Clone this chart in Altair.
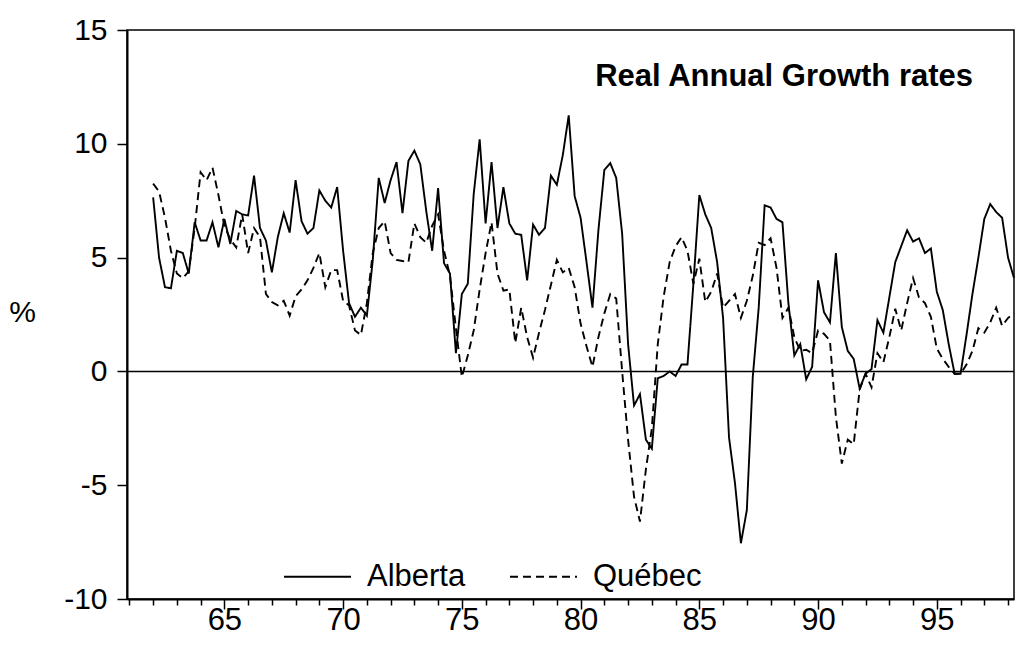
import altair as alt
import pandas as pd

FONT = "Liberation Sans"

# Quarterly real annual growth rates (%), 1962Q1 onward
start_year = 1962
alberta = [
    7.65, 5.0, 3.7, 3.65, 5.3, 5.2, 4.3, 6.55, 5.75, 5.75,
    6.55, 5.45, 6.7, 5.6, 7.05, 6.9, 6.85, 8.6, 6.3, 5.75,
    4.35, 5.9, 6.95, 6.1, 8.4, 6.6, 6.05, 6.3, 7.95, 7.5,
    7.2, 8.1, 5.3, 3.0, 2.4, 2.8, 2.45, 4.9, 8.5, 7.4,
    8.4, 9.2, 6.95, 9.25, 9.7, 9.1, 7.05, 5.3, 8.05, 4.75,
    4.3, 0.8, 3.4, 3.85, 7.8, 10.2, 6.5, 9.2, 6.3, 8.1,
    6.5, 6.05, 6.0, 4.0, 6.45, 6.0, 6.3, 8.6, 8.2, 9.5,
    11.25, 7.7, 6.75, 4.8, 2.8, 6.2, 8.85, 9.15, 8.5, 6.05,
    1.2, -1.5, -1.0, -3.0, -3.4, -0.3, -0.2, 0.0, -0.2, 0.3,
    0.3, 3.85, 7.75, 6.9, 6.3, 4.8, 2.35, -2.9, -4.9, -7.55,
    -6.1, -0.25, 2.8, 7.3, 7.2, 6.7, 6.55, 3.0, 0.7, 1.2,
    -0.35, 0.2, 4.0, 2.6, 2.15, 5.2, 1.95, 0.9, 0.55, -0.75,
    -0.1, 0.1, 2.25, 1.7, 3.25, 4.8, 5.5, 6.2, 5.7, 5.85,
    5.2, 5.4, 3.5, 2.7, 1.2, -0.1, -0.1, 1.6, 3.4, 5.0,
    6.7, 7.35, 7.0, 6.75, 5.0, 4.1,
]
quebec = [
    8.25, 7.9, 6.75, 5.3, 4.3, 4.1, 4.4, 6.3, 8.75, 8.4,
    8.95, 7.75, 6.4, 5.8, 5.45, 6.9, 5.2, 6.3, 5.9, 3.4,
    3.05, 2.9, 3.1, 2.45, 3.3, 3.6, 4.0, 4.55, 5.2, 3.7,
    4.45, 4.45, 3.1, 2.9, 1.8, 1.6, 3.0, 5.2, 6.3, 6.6,
    5.2, 4.9, 4.85, 4.8, 6.5, 5.9, 5.65, 6.4, 6.9, 5.3,
    4.2, 1.9, -0.25, 0.7, 1.8, 3.6, 5.2, 6.55, 4.3, 3.55,
    3.6, 1.25, 2.8, 1.5, 0.6, 1.7, 2.7, 3.8, 4.9, 4.35,
    4.55, 3.7, 2.1, 1.1, 0.2, 1.5, 2.55, 3.4, 3.2, 0.0,
    -3.0, -5.5, -6.6, -4.3, -2.5, 1.2, 3.3, 4.8, 5.5, 5.9,
    5.3, 3.85, 4.95, 3.05, 3.5, 4.3, 2.8, 3.1, 3.4, 2.35,
    3.1, 4.2, 5.65, 5.55, 5.85, 4.55, 2.35, 2.8, 1.5, 0.9,
    0.95, 0.8, 1.8, 1.65, 1.35, -2.0, -4.05, -3.0, -3.2, -0.8,
    -0.1, -0.7, 0.8, 0.4, 1.5, 2.75, 1.8, 3.0, 4.1, 3.25,
    3.0, 2.4, 1.0, 0.55, 0.2, -0.1, -0.1, 0.3, 0.9, 1.9,
    1.7, 2.15, 2.8, 2.0, 2.35, 2.55,
]
series_names = ["Alberta", "Québec"]
chart_title = "Real Annual Growth rates"
y_ticks = [-10, -5, 0, 5, 10, 15]
year_ticks = list(range(1961, 1999))

years = [start_year + k / 4 for k in range(len(alberta))]
df = pd.concat([
    pd.DataFrame({"year": years, "value": alberta, "series": series_names[0]}),
    pd.DataFrame({"year": years, "value": quebec, "series": series_names[1]}),
])

x_scale = alt.Scale(domain=[1960.9, 1998.25], nice=False, zero=False)
y_scale = alt.Scale(domain=[-10, 15], nice=False)

lines = alt.Chart(df).mark_line(color="black", strokeWidth=1.9).encode(
    x=alt.X(
        "year:Q",
        scale=x_scale,
        axis=alt.Axis(
            values=year_ticks,
            labelExpr="datum.value % 5 === 0 ? substring(toString(datum.value), 2) : ''",
            tickSize={"condition": {"test": "datum.value % 5 === 0", "value": 10}, "value": 6},
            tickColor="black",
            tickWidth=1.5,
            domainColor="black",
            domainWidth=2,
            labelFontSize=31,
            labelPadding=-4,
            labelOverlap=False,
            labelFlush=False,
            grid=False,
            title=None,
        ),
    ),
    y=alt.Y(
        "value:Q",
        scale=y_scale,
        axis=alt.Axis(
            values=y_ticks,
            labelExpr="toString(datum.value)",
            tickSize=10,
            tickColor="black",
            tickWidth=1.5,
            domainColor="black",
            domainWidth=2,
            labelFontSize=30,
            labelPadding=10,
            grid=False,
            title="%",
            titleAngle=0,
            titleX=-105,
            titleY=282,
            titleAlign="center",
            titleBaseline="middle",
            titleFontSize=30,
            titleFontWeight="normal",
        ),
    ),
    strokeDash=alt.StrokeDash(
        "series:N",
        scale=alt.Scale(domain=series_names, range=[[1, 0], [8, 5]]),
        legend=alt.Legend(
            orient="none",
            legendX=156,
            legendY=512,
            direction="horizontal",
            title=None,
            symbolType="stroke",
            symbolSize=4489,
            symbolStrokeWidth=1.8,
            symbolStrokeColor="black",
            labelFontSize=31,
            labelOffset=15,
            columnPadding=40,
            padding=0,
        ),
    ),
    order="year:Q",
)

zero_line = alt.Chart(pd.DataFrame({"zero": [0]})).mark_rule(
    color="black", strokeWidth=1.5
).encode(y=alt.Y("zero:Q", scale=y_scale))

title_text = alt.Chart(pd.DataFrame({"t": [chart_title]})).mark_text(
    align="right", baseline="alphabetic", font=FONT, fontSize=31, fontWeight="bold", color="black"
).encode(x=alt.value(846), y=alt.value(56), text="t:N")

chart = alt.layer(zero_line, lines, title_text).properties(
    width=887,
    height=569,
    autosize=alt.AutoSizeParams(type="none"),
    padding={"left": 127, "top": 30, "right": 2, "bottom": 57},
    background="white",
).configure_view(
    stroke="black", strokeWidth=1.5
).configure_axis(
    labelFont=FONT, titleFont=FONT, labelColor="black", titleColor="black"
).configure_legend(
    labelFont=FONT, labelColor="black"
)

chart.save("out.html", embed_options={"renderer": "svg", "actions": False})
